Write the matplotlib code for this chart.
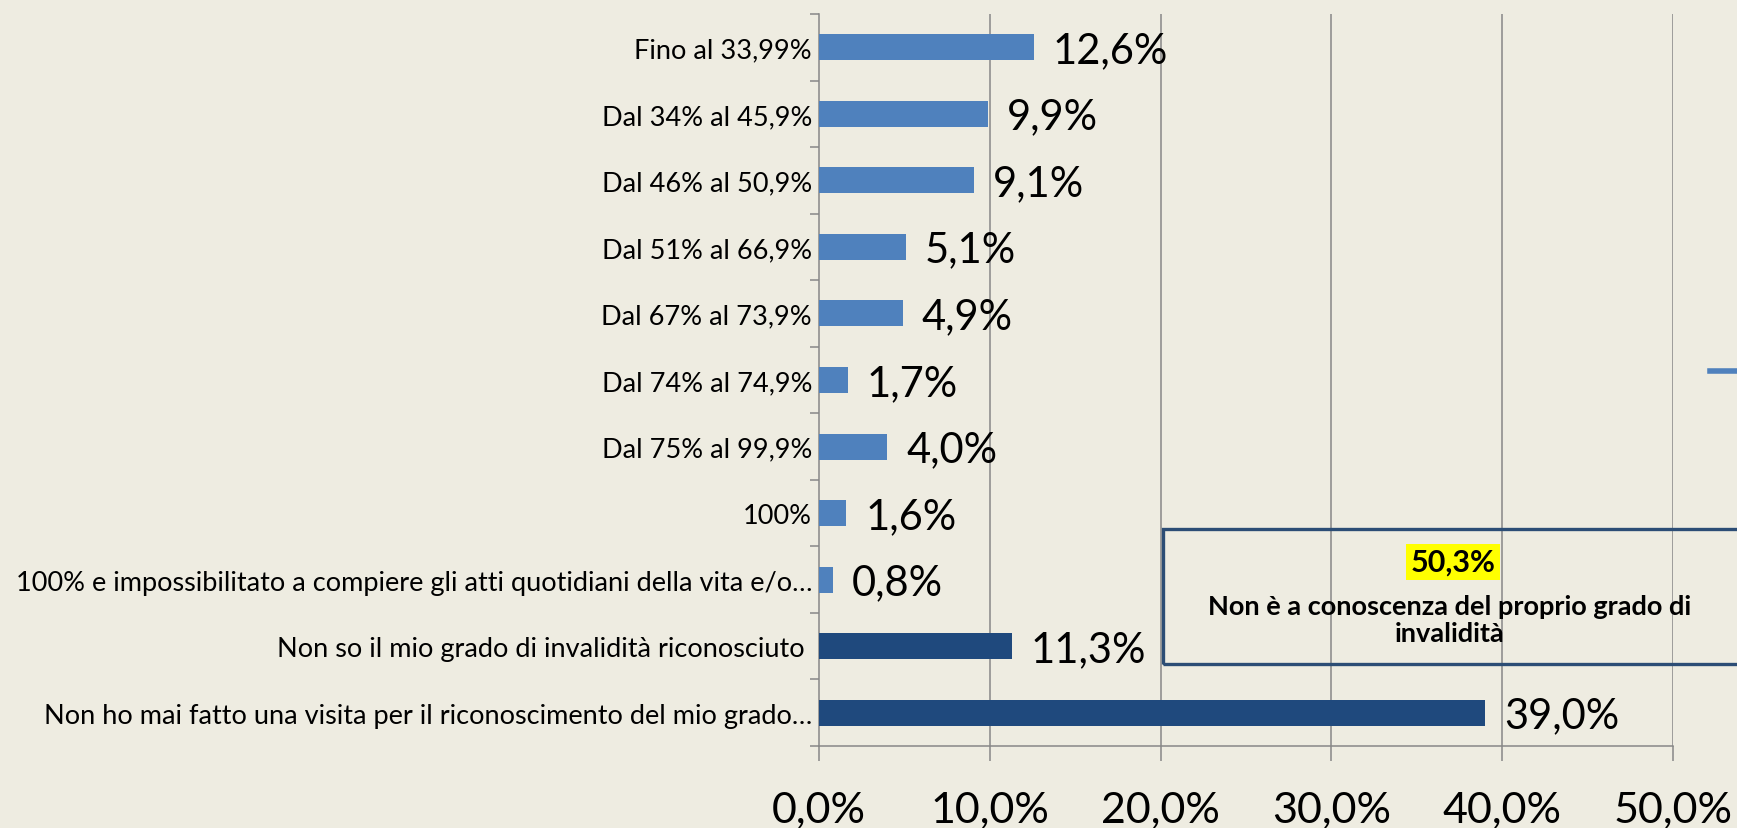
import matplotlib
matplotlib.use("Agg")
import matplotlib.pyplot as plt
from matplotlib.patches import Rectangle
from matplotlib.lines import Line2D
from matplotlib.ticker import FixedLocator, FuncFormatter

plt.rcParams['font.family'] = ['Lato', 'DejaVu Sans']

categories = [
    "Fino al 33,99%",
    "Dal 34% al 45,9%",
    "Dal 46% al 50,9%",
    "Dal 51% al 66,9%",
    "Dal 67% al 73,9%",
    "Dal 74% al 74,9%",
    "Dal 75% al 99,9%",
    "100%",
    "100% e impossibilitato a compiere gli atti quotidiani della vita e/o…",
    "Non so il mio grado di invalidità riconosciuto ",
    "Non ho mai fatto una visita per il riconoscimento del mio grado…",
]
values = [12.6, 9.9, 9.1, 5.1, 4.9, 1.7, 4.0, 1.6, 0.8, 11.3, 39.0]
highlight = [False] * 9 + [True, True]
x_ticks = [0, 10, 20, 30, 40, 50]
box_value = "50,3%"
box_text = "Non è a conoscenza del proprio grado di\ninvalidità"

W, H = 1737, 829
BG = '#EEECE1'
LIGHT = '#4F81BD'
DARK = '#1F497D'
GRID = '#878787'

fig = plt.figure(figsize=(W / 100, H / 100), dpi=100, facecolor=BG)
ax = fig.add_axes([819 / W, 1 - 747 / H, (1673 - 819) / W, (747 - 15) / H])
ax.set_facecolor(BG)

ypos = list(range(len(categories)))
colors = [DARK if h else LIGHT for h in highlight]
ax.barh(ypos, values, height=0.39, color=colors, zorder=3)

ax.set_xlim(0, 50)
ax.set_ylim(len(categories) - 0.5, -0.5)

for y, v in zip(ypos, values):
    ax.annotate(f"{v:.1f}%".replace('.', ','), xy=(v, y), xytext=(13.5, -2),
                textcoords='offset points', ha='left', va='center',
                fontsize=30, color='black', zorder=4)

# grid
for xv in x_ticks[1:]:
    ax.axvline(xv, color=GRID, lw=1.1, zorder=1)

for s in ['top', 'right']:
    ax.spines[s].set_visible(False)
for s in ['left', 'bottom']:
    ax.spines[s].set_color(GRID)
    ax.spines[s].set_linewidth(1.1)

ax.set_yticks(ypos)
ax.set_yticklabels(categories, fontsize=19.5)
ax.yaxis.set_minor_locator(FixedLocator([i - 0.5 for i in range(len(categories) + 1)]))
ax.tick_params(axis='y', which='major', length=0, pad=5)
ax.tick_params(axis='y', which='minor', length=6.5, width=1.1, color=GRID)

ax.set_xticks(x_ticks)
ax.xaxis.set_major_formatter(FuncFormatter(lambda v, p: f"{v:.1f}%".replace('.', ',')))
ax.tick_params(axis='x', which='major', length=10.8, width=1.1, color=GRID,
               pad=21, labelsize=31)

# annotation box
fig.add_artist(Rectangle((1163 / W, 1 - 665 / H), (W - 1163 + 20) / W, 135 / H,
                         transform=fig.transFigure, fill=False,
                         edgecolor='#2C4D75', lw=2.4, zorder=5))
fig.text(1453 / W, 1 - 563 / H, box_value, ha='center', va='center',
         fontsize=22, fontweight='bold', color='black',
         bbox=dict(facecolor='#FFFF00', edgecolor='none', pad=3), zorder=6)
fig.text(1450 / W, 1 - 621 / H, box_text, ha='center', va='center',
         fontsize=19.5, fontweight='bold', color='black', linespacing=1.15, zorder=6)

# cut-off legend key at the right edge
fig.add_artist(Line2D([1710 / W, 1.0], [1 - 372 / H, 1 - 372 / H],
                      transform=fig.transFigure, color=LIGHT, lw=4))

fig.savefig("out.png", dpi=100, facecolor=BG)
